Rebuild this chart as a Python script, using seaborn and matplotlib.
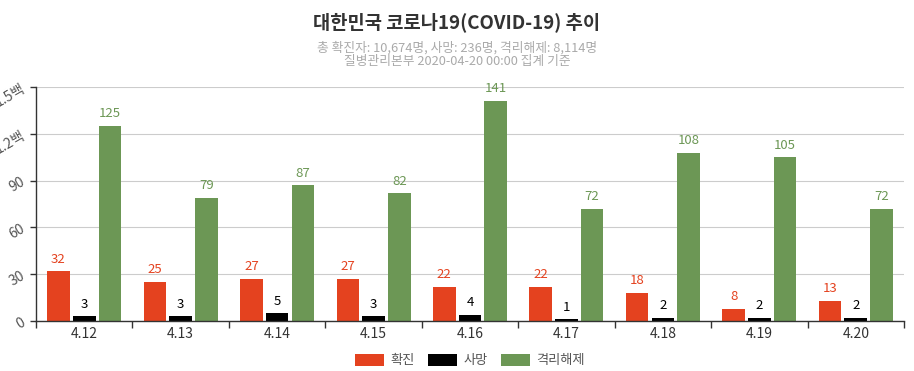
import pandas as pd
import matplotlib.pyplot as plt
import seaborn as sns

# ====== data ======
dates = ["4.12", "4.13", "4.14", "4.15", "4.16", "4.17", "4.18", "4.19", "4.20"]
confirmed = [32, 25, 27, 27, 22, 22, 18, 8, 13]
deaths = [3, 3, 5, 3, 4, 1, 2, 2, 2]
released = [125, 79, 87, 82, 141, 72, 108, 105, 72]
series = ["확진", "사망", "격리해제"]
colors = ["#E4421F", "#000000", "#6C9755"]
yticks = [0, 30, 60, 90, 120, 150]
ytick_labels = ["0", "30", "60", "90", "1.2백", "1.5백"]

df = pd.DataFrame({
    "date": dates * 3,
    "series": [series[0]] * 9 + [series[1]] * 9 + [series[2]] * 9,
    "value": confirmed + deaths + released,
})

sns.set_style("white")
plt.rcParams["font.family"] = ["Noto Sans CJK KR", "DejaVu Sans"]

fig = plt.figure(figsize=(9.14, 3.71), dpi=100)
ax = fig.add_axes([36 / 914, 1 - 321 / 371, 868 / 914, 234 / 371])

sns.barplot(data=df, x="date", y="value", hue="series", hue_order=series,
            palette=colors, saturation=1, width=0.8, gap=0.12, ax=ax, legend=True,
            edgecolor="none", linewidth=0)

for cont, c in zip(ax.containers, colors):
    ax.bar_label(cont, padding=4, color=c, fontsize=9.5)

ax.set_ylim(0, 150)
ax.set_xlim(-0.5, len(dates) - 0.5)
ax.set_yticks(yticks)
ax.set_yticklabels(ytick_labels, rotation=30, color="#555555", fontsize=10)
ax.tick_params(axis="x", length=0, labelsize=10, labelcolor="#333333", pad=4)
ax.tick_params(axis="y", length=4, width=1, color="#333333", pad=2, left=True)
ax.set_xticks([i + 0.5 for i in range(-1, len(dates))], minor=True)
ax.tick_params(axis="x", which="minor", length=5, width=1, color="#333333", bottom=True)
ax.yaxis.grid(True, color="#cccccc", linewidth=0.8)
ax.set_axisbelow(True)
for s in ["top", "right"]:
    ax.spines[s].set_visible(False)
for s in ["left", "bottom"]:
    ax.spines[s].set_color("#333333")
    ax.spines[s].set_linewidth(1)
ax.set_xlabel("")
ax.set_ylabel("")

leg = ax.legend(loc="upper center", bbox_to_anchor=(0.5, -0.09), ncol=3,
                frameon=False, fontsize=9.5, handlelength=2.2, handleheight=1.0,
                columnspacing=1.0, handletextpad=0.5)
for t in leg.get_texts():
    t.set_color("#555555")

fig.text(0.5, 1 - 22 / 371, "대한민국 코로나19(COVID-19) 추이", ha="center", va="center",
         fontsize=13.5, fontweight="bold", color="#333333")
fig.text(0.5, 1 - 48 / 371, "총 확진자: 10,674명, 사망: 236명, 격리해제: 8,114명",
         ha="center", va="center", fontsize=9.2, color="#aaaaaa")
fig.text(0.5, 1 - 61 / 371, "질병관리본부 2020-04-20 00:00 집계 기준",
         ha="center", va="center", fontsize=9.2, color="#aaaaaa")

fig.savefig("out.png", dpi=100)
